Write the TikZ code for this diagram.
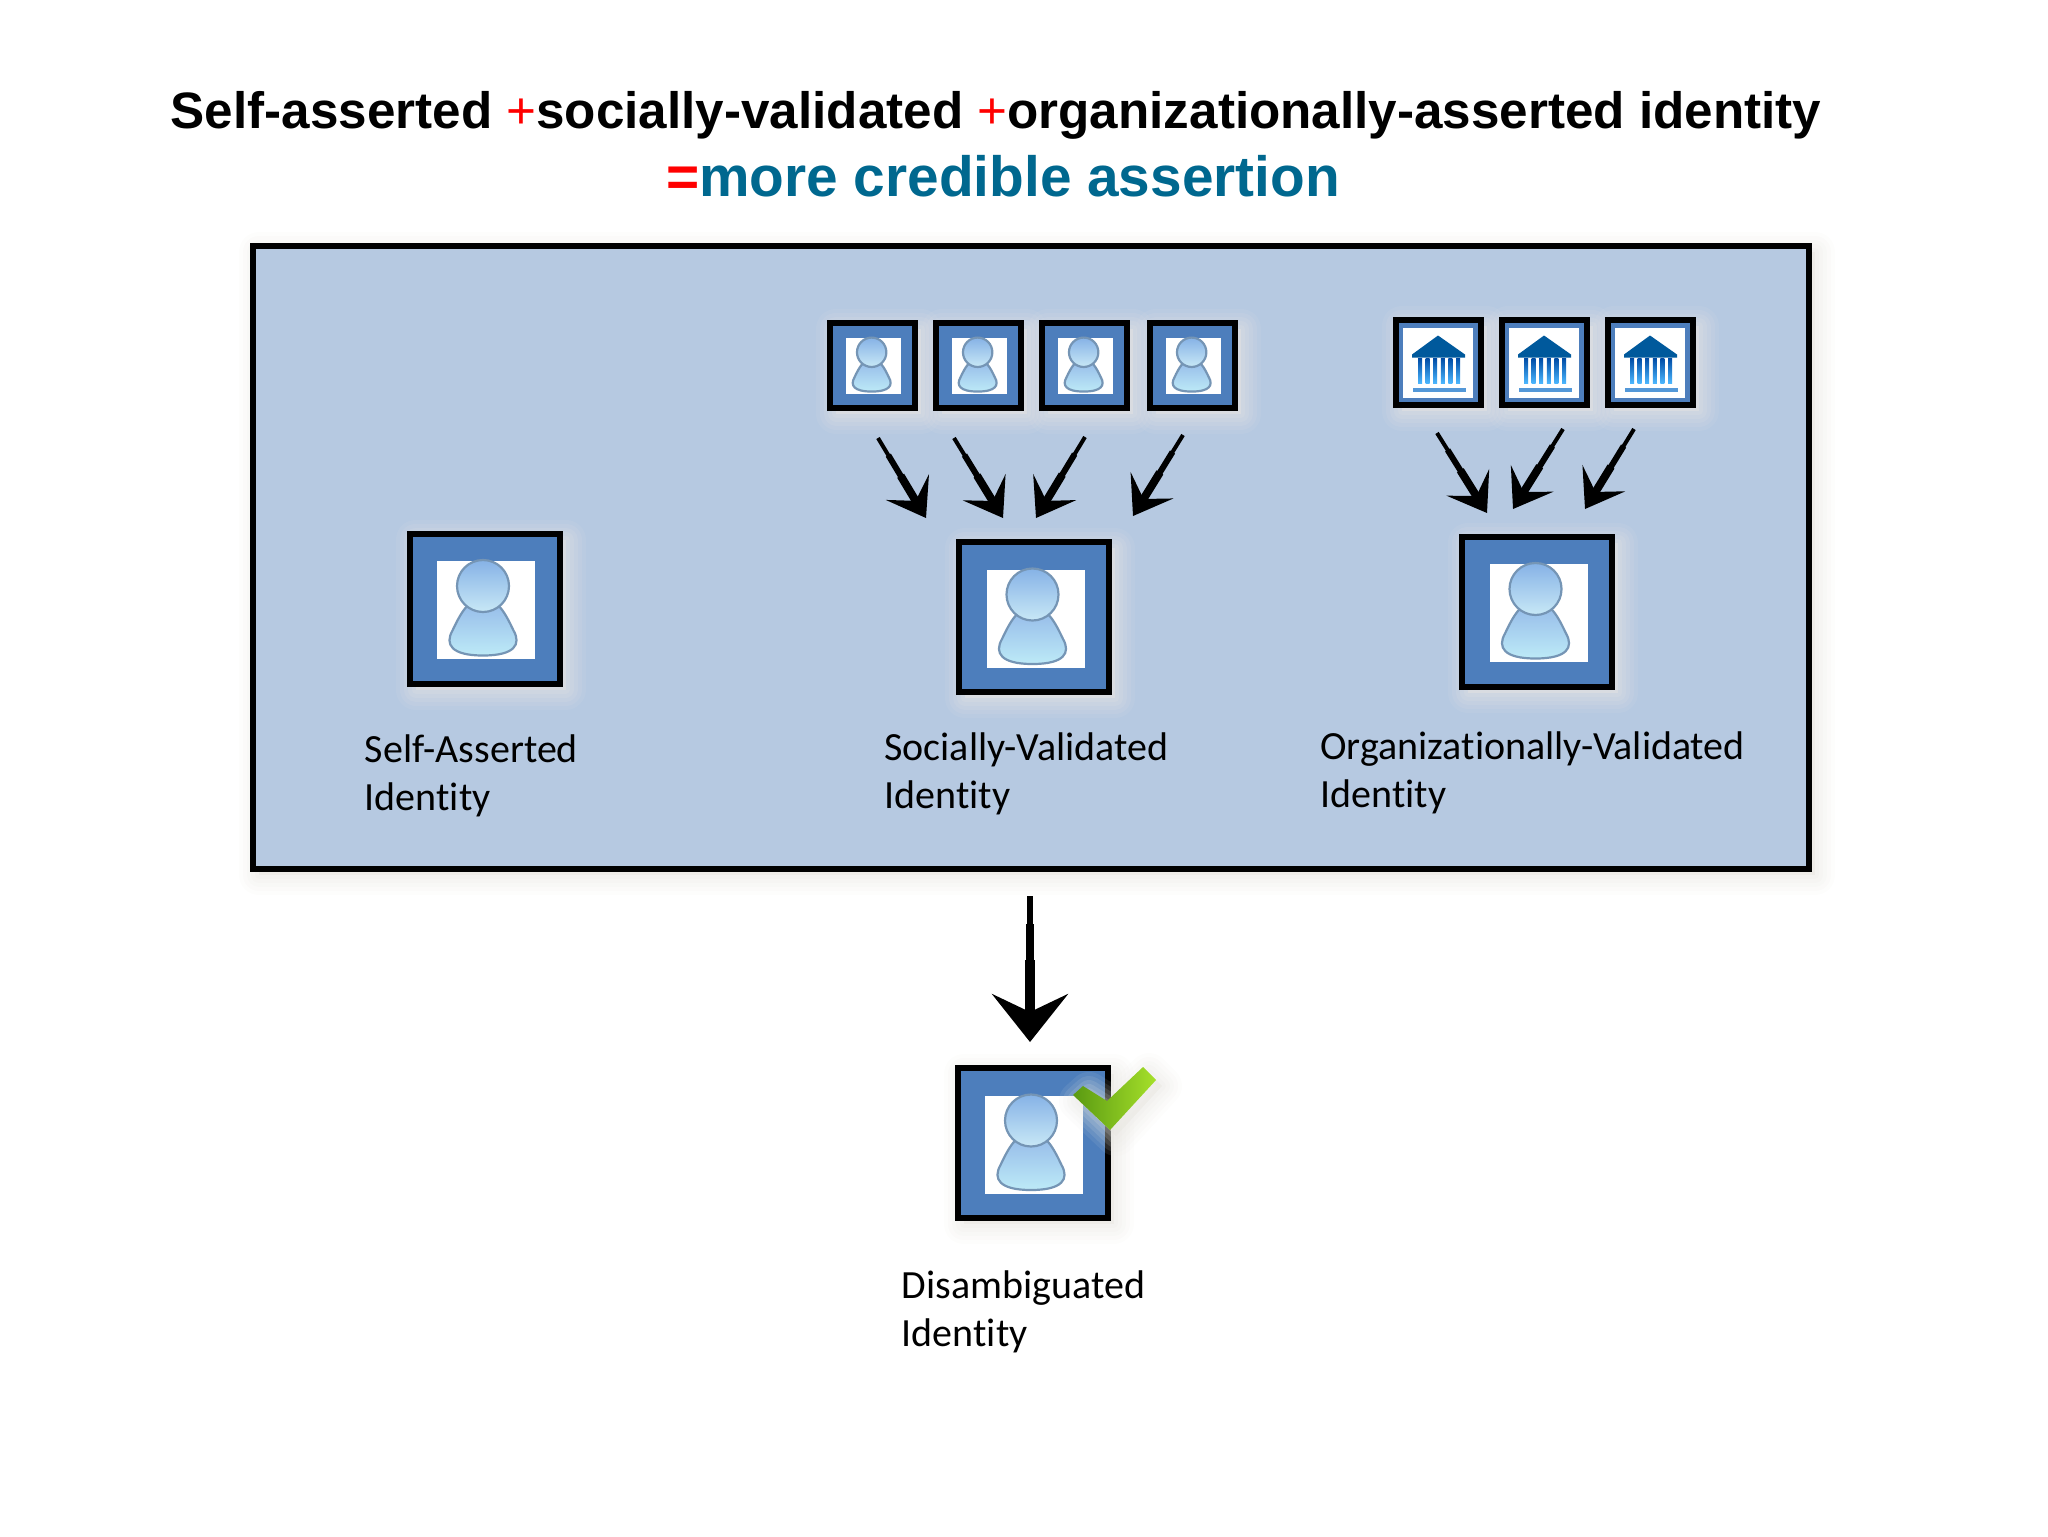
\documentclass[tikz,border=0pt]{standalone}
\usepackage{fontspec}
\setmainfont{Liberation Sans}
\newfontfamily\etichettafont[Ligatures=NoCommon]{Carlito}
\usetikzlibrary{positioning}
\usetikzlibrary{shadows}
\usetikzlibrary{arrows.meta}
\definecolor{pannello}{HTML}{B6C9E1}
\definecolor{bordino}{HTML}{4D7EBC}
\definecolor{rosso}{HTML}{FF0000}
\definecolor{petrolio}{HTML}{00688F}
\definecolor{ombra}{HTML}{E8E6E1}
\definecolor{contorno}{HTML}{7595B5}
\definecolor{testaA}{HTML}{86B2E6}
\definecolor{testaB}{HTML}{C8E8F6}
\definecolor{corpoA}{HTML}{93B8E8}
\definecolor{corpoB}{HTML}{BDEAF7}
\definecolor{spuntaA}{HTML}{5A9A12}
\definecolor{spuntaB}{HTML}{A6E02A}
\tikzset{
pics/persona/.style={code={
 \fill[white] (-47.5,-47.5) rectangle (50.5,50.5);
 \draw[draw=contorno,line width=1.1pt,top color=corpoA,bottom color=corpoB]
  (-1.5,-10) .. controls (13,-10) and (21,5) .. (29,22) .. controls (37,36) and (30,47) .. (-1.5,47) .. controls (-33,47) and (-40,36) .. (-32,22) .. controls (-24,5) and (-16,-10) .. (-1.5,-10) -- cycle;
 \draw[draw=contorno,line width=1.1pt,top color=testaA,bottom color=testaB] (-1.5,-22.5) circle (26);
}},
pics/banca/.style={code={
 \fill[white] (-35,-35) rectangle (35,35);
 \fill[fill=blue!40!black!65!cyan] (0,-27) -- (27,-8) -- (27,-5) -- (-26,-5) -- (-26,-8) -- cycle;
 \foreach \cx in {-18,-10.4,-2.8,4.8,12.4,20}
  \shade[top color=blue!50!black!70!cyan,bottom color=cyan!60!blue!70!white] (\cx-2,-4) rectangle (\cx+2,21);
 \fill[cyan!60!blue!70!white] (-25,25) rectangle (28,29);
}}
}
\begin{document}
\begin{tikzpicture}[x=0.5pt,y=-0.5pt,node distance=7.5pt,align=left,
pannellobox/.style={draw,line width=3pt,fill=pannello,inner sep=0pt,minimum width=778pt,minimum height=311.5pt,softshadow},
softshadow/.style={
 general shadow={shadow xshift=3pt,shadow yshift=-3pt,draw=ombra,fill=ombra,opacity=.09,line width=20pt,line join=round},
 general shadow={shadow xshift=3pt,shadow yshift=-3pt,draw=ombra,fill=ombra,opacity=.11,line width=16pt,line join=round},
 general shadow={shadow xshift=3pt,shadow yshift=-3pt,draw=ombra,fill=ombra,opacity=.13,line width=12pt,line join=round},
 general shadow={shadow xshift=3pt,shadow yshift=-3pt,draw=ombra,fill=ombra,opacity=.15,line width=8pt,line join=round},
 general shadow={shadow xshift=3pt,shadow yshift=-3pt,draw=ombra,fill=ombra,opacity=.17,line width=4pt,line join=round}},
iconabox/.style={draw,line width=3pt,fill=bordino,inner sep=0pt,minimum size=75pt,softshadow},
iconina/.style={draw,line width=3pt,fill=bordino,inner sep=0pt,minimum size=42.5pt,softshadow},
etichetta/.style={font=\etichettafont\fontsize{20}{24}\selectfont,anchor=north west,inner sep=0pt},
freccia/.style={line width=2pt,-{Stealth[length=18pt,width=25pt,inset=8pt]},
 postaction={draw,-,line width=3pt,shorten <=10pt,shorten >=6pt},
 postaction={draw,-,line width=4pt,shorten <=22pt,shorten >=6pt}},
frecciona/.style={line width=3pt,-{Stealth[length=24pt,width=38pt,inset=9pt]},
 postaction={draw,-,line width=3.8pt,shorten <=14pt,shorten >=8pt},
 postaction={draw,-,line width=4.6pt,shorten <=32pt,shorten >=8pt}}
]
\useasboundingbox (0,0) rectangle (2048,1536);
%-- titolo
\node[inner sep=0pt,anchor=base,font=\bfseries\fontsize{25.6}{30}\selectfont](tit1) at (996,128){Self-asserted {\color{rosso}\mdseries+}socially-validated {\color{rosso}\mdseries+}organizationally-asserted identity};
\node[inner sep=0pt,anchor=base,font=\bfseries\fontsize{28.4}{34}\selectfont,text=petrolio](tit2) at (1003,196){{\color{rosso}=}more credible assertion};
%-- pannello
\node[pannellobox](pan) at (1031,557.5){};
%----
\node[iconabox](self) at (484.5,608.5){};
\pic at (self.center) {persona};
\node[etichetta,below = 24pt of self.south west,xshift=-21pt,anchor=north west](selflab){Self-Asserted\\Identity};
%----
\node[iconabox](soc) at (1034,617){};
\pic at (soc.center) {persona};
\node[etichetta,below = 18.5pt of soc.south west,xshift=-36pt,anchor=north west](soclab){Socially-Validated\\Identity};
%--
\node[iconina](sa) at (872.5,365){};
\node[iconina,right = of sa](sb){};
\node[iconina,right = of sb](sc){};
\node[iconina,right = 8.5pt of sc](sd){};
\foreach \n in {sa,sb,sc,sd}
 \pic[scale=0.565] at (\n.center) {persona};
%--
\coordinate (fa) at (878,438); \coordinate (ta) at (926,518);
\coordinate (fb) at (954,438); \coordinate (tb) at (1003,518);
\coordinate (fc) at (1085,437); \coordinate (tc) at (1036,518);
\coordinate (fd) at (1183,435); \coordinate (td) at (1133,516);
\draw[freccia] (fa) -- (ta);
\draw[freccia] (fb) -- (tb);
\draw[freccia] (fc) -- (tc);
\draw[freccia] (fd) -- (td);
%----
\node[iconabox](org) at (1537,611.5){};
\pic at (org.center) {persona};
\node[etichetta,below = 21pt of org.south west,xshift=-69.5pt,anchor=north west](orglab){Organizationally-Validated\\Identity};
%--
\node[iconina](oa) at (1438,362.5){};
\node[iconina,right = of oa](ob){};
\node[iconina,right = of ob](oc){};
\foreach \n in {oa,ob,oc}
 \pic at (\n.center) {banca};
%--
\coordinate (ga) at (1437,433); \coordinate (ua) at (1487,513);
\coordinate (gb) at (1563,429); \coordinate (ub) at (1513,509);
\coordinate (gc) at (1634,429); \coordinate (uc) at (1585,509);
\draw[freccia] (ga) -- (ua);
\draw[freccia] (gb) -- (ub);
\draw[freccia] (gc) -- (uc);
%----
\coordinate (gi) at (1030,896); \coordinate (su) at (1030,1042);
\draw[frecciona] (gi) -- (su);
%--
\node[iconabox](dis) at (1032.5,1143){};
\pic at (dis.center) {persona};
\node[etichetta,below = 24.5pt of dis.south west,xshift=-26.5pt,anchor=north west](dislab){Disambiguated\\Identity};
%-- spunta
\path[softshadow,left color=spuntaA,right color=spuntaB] (1073,1095) -- (1083,1086) -- (1107,1101) -- (1143,1067) -- (1156,1080) -- (1110,1130) -- cycle;
\end{tikzpicture}
\end{document}
